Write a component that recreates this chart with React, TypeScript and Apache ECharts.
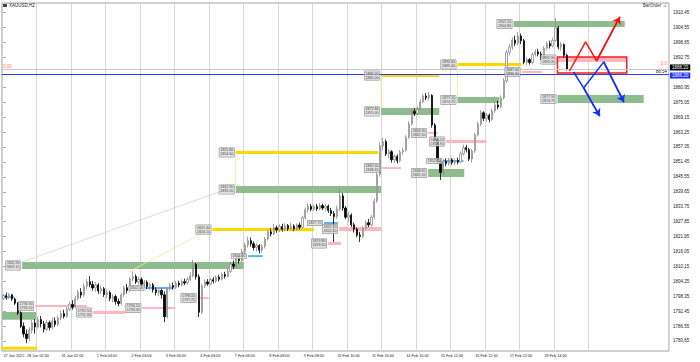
import React, { useEffect, useRef } from "react";
import * as echarts from "echarts";

const SLOT_COUNT = 232;
const LABEL_STEP = 12;
const GRID_LAST = 204;
const Y_MIN = 1776.68;
const Y_MAX = 1914.29;

const timeLabels = [
  "27 Jan 2022", "28 Jan 02:00", "31 Jan 02:00", "1 Feb 04:00", "2 Feb 04:00",
  "3 Feb 06:00", "4 Feb 06:00", "7 Feb 06:00", "8 Feb 08:00", "9 Feb 08:00",
  "10 Feb 10:00", "11 Feb 10:00", "14 Feb 10:00", "15 Feb 12:00", "16 Feb 12:00",
  "17 Feb 12:00", "18 Feb 14:00",
];

const priceTicks = [
  1780.65, 1786.55, 1792.45, 1798.35, 1804.25, 1810.15, 1816.05, 1821.95,
  1827.85, 1833.75, 1839.65, 1845.55, 1851.45, 1857.35, 1863.25, 1869.15,
  1875.05, 1880.95, 1892.75, 1898.65, 1904.55, 1910.45,
];

// [open, close, low, high]
const candles: number[][] = [
  [1797.5, 1798.6, 1796.8, 1799.4],
  [1798.6, 1797.9, 1797.0, 1799.8],
  [1797.9, 1798.9, 1797.2, 1799.6],
  [1798.9, 1797.2, 1796.5, 1799.2],
  [1797.2, 1795.6, 1794.9, 1797.8],
  [1795.6, 1791.8, 1790.9, 1796.0],
  [1791.8, 1786.5, 1785.7, 1792.4],
  [1786.5, 1783.4, 1782.1, 1788.0],
  [1783.4, 1781.6, 1779.8, 1785.2],
  [1781.6, 1784.9, 1780.5, 1786.1],
  [1784.9, 1787.8, 1783.6, 1789.0],
  [1787.8, 1786.2, 1783.5, 1789.3],
  [1786.2, 1789.1, 1785.5, 1790.2],
  [1789.1, 1787.4, 1786.0, 1790.5],
  [1787.4, 1785.3, 1784.0, 1788.6],
  [1785.3, 1787.9, 1784.6, 1789.0],
  [1787.9, 1786.0, 1784.8, 1788.7],
  [1786.0, 1788.6, 1785.2, 1789.9],
  [1788.6, 1787.2, 1786.1, 1790.0],
  [1787.2, 1789.8, 1786.5, 1790.8],
  [1789.8, 1791.5, 1788.9, 1792.7],
  [1791.5, 1790.4, 1789.5, 1793.0],
  [1790.4, 1793.2, 1789.8, 1794.1],
  [1793.2, 1795.1, 1792.4, 1796.3],
  [1795.1, 1794.0, 1793.0, 1796.8],
  [1794.0, 1797.4, 1793.5, 1798.5],
  [1797.4, 1799.9, 1796.6, 1801.0],
  [1799.9, 1798.8, 1797.6, 1801.5],
  [1798.8, 1802.3, 1798.0, 1803.4],
  [1802.3, 1804.1, 1801.2, 1805.2],
  [1804.1, 1803.0, 1801.9, 1806.3],
  [1803.0, 1801.6, 1800.5, 1804.4],
  [1801.6, 1802.8, 1800.1, 1804.0],
  [1802.8, 1800.4, 1799.3, 1803.5],
  [1800.4, 1801.3, 1799.2, 1802.6],
  [1801.3, 1799.0, 1798.1, 1802.0],
  [1799.0, 1799.8, 1797.6, 1800.9],
  [1799.8, 1797.5, 1796.4, 1800.5],
  [1797.5, 1798.2, 1795.8, 1799.1],
  [1798.2, 1796.3, 1795.0, 1799.0],
  [1796.3, 1795.5, 1794.4, 1797.4],
  [1795.5, 1798.9, 1794.8, 1799.7],
  [1798.9, 1801.7, 1798.0, 1802.5],
  [1801.7, 1800.6, 1799.4, 1803.1],
  [1800.6, 1805.2, 1800.0, 1806.0],
  [1805.2, 1806.1, 1804.3, 1808.2],
  [1806.1, 1804.0, 1803.2, 1807.0],
  [1804.0, 1805.0, 1802.9, 1806.1],
  [1805.0, 1803.1, 1802.0, 1805.8],
  [1803.1, 1803.9, 1801.7, 1804.8],
  [1803.9, 1802.2, 1801.1, 1804.6],
  [1802.2, 1802.9, 1800.8, 1803.7],
  [1802.9, 1800.9, 1799.8, 1803.6],
  [1800.9, 1799.8, 1798.6, 1801.8],
  [1799.8, 1800.6, 1798.3, 1801.5],
  [1800.6, 1798.9, 1797.4, 1801.3],
  [1798.9, 1790.2, 1788.1, 1800.2],
  [1790.2, 1801.3, 1789.6, 1802.0],
  [1801.3, 1802.6, 1800.5, 1803.6],
  [1802.6, 1801.9, 1800.9, 1803.8],
  [1801.9, 1803.5, 1801.2, 1804.4],
  [1803.5, 1802.8, 1801.9, 1804.5],
  [1802.8, 1804.1, 1802.2, 1805.0],
  [1804.1, 1803.6, 1802.7, 1805.3],
  [1803.6, 1805.0, 1803.0, 1805.9],
  [1805.0, 1806.4, 1804.3, 1807.8],
  [1806.4, 1810.9, 1805.8, 1812.7],
  [1810.9, 1806.0, 1804.9, 1811.5],
  [1806.0, 1792.0, 1790.1, 1807.0],
  [1792.0, 1802.5, 1791.3, 1803.3],
  [1802.5, 1804.0, 1801.6, 1804.9],
  [1804.0, 1803.2, 1802.5, 1805.1],
  [1803.2, 1804.9, 1802.7, 1805.6],
  [1804.9, 1804.3, 1803.4, 1805.9],
  [1804.3, 1805.8, 1803.7, 1806.6],
  [1805.8, 1805.1, 1804.2, 1806.8],
  [1805.1, 1806.9, 1804.6, 1807.7],
  [1806.9, 1806.3, 1805.3, 1808.0],
  [1806.3, 1808.2, 1805.8, 1809.1],
  [1808.2, 1811.0, 1807.6, 1812.1],
  [1811.0, 1810.2, 1809.0, 1812.5],
  [1810.2, 1813.3, 1809.6, 1814.4],
  [1813.3, 1812.4, 1811.3, 1814.8],
  [1812.4, 1815.9, 1811.9, 1817.0],
  [1815.9, 1818.6, 1815.1, 1819.6],
  [1818.6, 1820.3, 1817.6, 1821.9],
  [1820.3, 1819.1, 1818.0, 1821.6],
  [1819.1, 1817.6, 1816.4, 1820.0],
  [1817.6, 1818.4, 1816.0, 1819.3],
  [1818.4, 1816.5, 1815.3, 1819.0],
  [1816.5, 1818.0, 1815.6, 1818.9],
  [1818.0, 1821.0, 1817.2, 1821.8],
  [1821.0, 1823.8, 1820.4, 1824.6],
  [1823.8, 1823.0, 1822.0, 1825.2],
  [1823.0, 1825.4, 1822.5, 1826.9],
  [1825.4, 1824.6, 1823.4, 1826.3],
  [1824.6, 1825.9, 1823.7, 1826.8],
  [1825.9, 1824.8, 1823.9, 1827.0],
  [1824.8, 1826.3, 1824.0, 1827.2],
  [1826.3, 1825.0, 1824.1, 1826.9],
  [1825.0, 1826.1, 1824.3, 1827.4],
  [1826.1, 1824.9, 1824.0, 1826.8],
  [1824.9, 1826.5, 1824.2, 1827.1],
  [1826.5, 1825.6, 1824.6, 1827.5],
  [1825.6, 1829.4, 1825.0, 1830.2],
  [1829.4, 1832.6, 1828.8, 1833.5],
  [1832.6, 1833.9, 1831.5, 1835.0],
  [1833.9, 1832.7, 1831.9, 1834.8],
  [1832.7, 1833.8, 1832.0, 1834.6],
  [1833.8, 1832.9, 1832.0, 1834.9],
  [1832.9, 1834.2, 1832.3, 1835.1],
  [1834.2, 1833.2, 1832.4, 1835.0],
  [1833.2, 1834.0, 1832.1, 1834.8],
  [1834.0, 1832.2, 1831.3, 1834.6],
  [1832.2, 1831.0, 1830.1, 1833.3],
  [1831.0, 1829.9, 1819.8, 1832.0],
  [1829.9, 1832.8, 1829.0, 1834.1],
  [1832.8, 1838.0, 1832.0, 1840.7],
  [1838.0, 1833.2, 1832.1, 1839.1],
  [1833.2, 1829.6, 1828.8, 1834.0],
  [1829.6, 1830.4, 1827.6, 1831.8],
  [1830.4, 1826.6, 1825.8, 1831.1],
  [1826.6, 1824.9, 1823.5, 1827.5],
  [1824.9, 1822.5, 1821.6, 1825.6],
  [1822.5, 1822.0, 1819.8, 1823.8],
  [1822.0, 1825.2, 1821.4, 1826.0],
  [1825.2, 1827.4, 1824.6, 1828.4],
  [1827.4, 1826.6, 1825.7, 1828.9],
  [1826.6, 1829.6, 1826.0, 1830.5],
  [1829.6, 1836.0, 1829.0, 1837.0],
  [1836.0, 1846.5, 1835.3, 1847.8],
  [1846.5, 1857.8, 1845.6, 1859.2],
  [1857.8, 1859.5, 1856.0, 1860.9],
  [1859.5, 1854.6, 1853.8, 1860.3],
  [1854.6, 1855.5, 1852.9, 1856.6],
  [1855.5, 1852.3, 1851.2, 1856.1],
  [1852.3, 1853.6, 1851.0, 1854.5],
  [1853.6, 1851.9, 1850.8, 1854.4],
  [1851.9, 1855.4, 1851.3, 1856.2],
  [1855.4, 1856.0, 1854.2, 1857.1],
  [1856.0, 1861.2, 1855.5, 1862.0],
  [1861.2, 1866.5, 1860.6, 1867.5],
  [1866.5, 1871.4, 1865.9, 1872.4],
  [1871.4, 1870.6, 1869.6, 1872.6],
  [1870.6, 1872.2, 1869.9, 1873.3],
  [1872.2, 1875.2, 1871.6, 1876.3],
  [1875.2, 1877.5, 1874.7, 1878.2],
  [1877.5, 1876.8, 1875.9, 1878.6],
  [1876.8, 1877.7, 1875.6, 1879.1],
  [1877.7, 1866.0, 1865.0, 1878.2],
  [1866.0, 1860.5, 1859.4, 1866.8],
  [1860.5, 1851.8, 1850.6, 1861.2],
  [1851.8, 1847.3, 1844.3, 1853.0],
  [1847.3, 1851.6, 1846.5, 1852.5],
  [1851.6, 1850.8, 1849.7, 1852.9],
  [1850.8, 1852.3, 1850.0, 1853.1],
  [1852.3, 1851.2, 1850.3, 1853.0],
  [1851.2, 1852.0, 1850.2, 1852.9],
  [1852.0, 1851.4, 1850.5, 1853.2],
  [1851.4, 1854.7, 1850.9, 1855.6],
  [1854.7, 1857.1, 1854.0, 1858.3],
  [1857.1, 1856.3, 1855.2, 1858.1],
  [1856.3, 1852.6, 1851.8, 1857.0],
  [1852.6, 1855.8, 1851.2, 1856.6],
  [1855.8, 1862.1, 1855.0, 1863.0],
  [1862.1, 1866.4, 1861.5, 1867.3],
  [1866.4, 1870.9, 1865.6, 1872.0],
  [1870.9, 1868.7, 1867.6, 1871.5],
  [1868.7, 1869.9, 1867.4, 1870.8],
  [1869.9, 1868.2, 1867.1, 1870.6],
  [1868.2, 1871.6, 1867.6, 1872.4],
  [1871.6, 1874.0, 1870.9, 1874.9],
  [1874.0, 1873.2, 1872.3, 1875.6],
  [1873.2, 1876.8, 1872.6, 1877.8],
  [1876.8, 1883.5, 1876.1, 1884.6],
  [1883.5, 1894.8, 1882.7, 1895.9],
  [1894.8, 1896.9, 1893.6, 1898.0],
  [1896.9, 1899.6, 1895.8, 1900.7],
  [1899.6, 1898.4, 1897.3, 1901.4],
  [1898.4, 1901.2, 1897.7, 1902.8],
  [1901.2, 1899.4, 1898.0, 1902.2],
  [1899.4, 1890.9, 1890.0, 1900.1],
  [1890.9, 1891.9, 1889.8, 1892.8],
  [1891.9, 1890.8, 1889.9, 1892.5],
  [1890.8, 1893.9, 1890.2, 1894.7],
  [1893.9, 1895.0, 1893.1, 1896.0],
  [1895.0, 1894.1, 1893.2, 1896.2],
  [1894.1, 1892.6, 1891.8, 1895.0],
  [1892.6, 1896.4, 1892.0, 1897.2],
  [1896.4, 1898.2, 1895.6, 1899.1],
  [1898.2, 1897.3, 1896.3, 1899.4],
  [1897.3, 1899.5, 1896.8, 1900.6],
  [1899.5, 1904.5, 1898.9, 1908.4],
  [1904.5, 1896.9, 1896.0, 1905.2],
  [1896.9, 1897.9, 1895.4, 1898.8],
  [1897.9, 1893.6, 1892.7, 1898.3],
  [1893.6, 1888.2, 1887.6, 1894.3],
];

// zones: [fromSlot, toSlot, topPrice, bottomPrice, labelled (1/0)]
const greenZones = [
  [-0.5, 11.4, 1792.1, 1789.0, 0],
  [6.5, 83.6, 1811.9, 1809.1, 1],
  [80.8, 131.35, 1841.9, 1839.2, 1],
  [131.35, 151.6, 1872.8, 1870.0, 1],
  [147.7, 160.3, 1848.65, 1845.5, 1],
  [157.9, 172.5, 1877.1, 1874.75, 1],
  [177.4, 216.1, 1907.2, 1904.8, 1],
  [192.7, 222.7, 1877.9, 1874.75, 1],
];
const yellowZones = [
  [-0.5, 11.7, 1778.4, 1777.2, 0],
  [72.7, 108.0, 1825.3, 1824.1, 1],
  [80.8, 130.3, 1855.8, 1854.6, 1],
  [131.35, 151.6, 1886.2, 1885.0, 1],
  [157.9, 180.2, 1890.6, 1889.4, 1],
];
const pinkZones = [
  [11.0, 29.1, 1794.9, 1794.1, 1],
  [31.2, 42.4, 1792.5, 1791.3, 1],
  [48.3, 59.8, 1794.1, 1793.3, 1],
  [67.5, 71.4, 1798.0, 1797.25, 1],
  [112.9, 117.4, 1819.8, 1818.6, 1],
  [116.7, 131.35, 1825.7, 1824.1, 1],
  [131.35, 138.3, 1849.4, 1848.65, 1],
  [147.7, 150.9, 1863.3, 1862.5, 1],
  [154.0, 168.0, 1860.1, 1858.9, 1],
  [180.2, 187.2, 1887.4, 1886.6, 1],
  [192.7, 216.8, 1892.9, 1890.95, 1],
];
const blueZones = [
  [-0.5, 3.7, 1798.4, 1797.6, 0],
  [49.4, 59.1, 1802.0, 1801.2, 1],
  [85.0, 90.2, 1814.6, 1813.8, 1],
  [111.5, 116.3, 1827.7, 1826.9, 1],
  [153.0, 160.0, 1852.2, 1851.4, 1],
];
const redBox = [192.7, 216.8, 1892.9, 1886.6];

const redArrow = [[196.9, 1887.4], [202.5, 1898.9], [206.3, 1891.4], [214.4, 1908.8]];
const blueArrowA = [[198.3, 1887.0], [201.8, 1880.7], [208.8, 1891.0], [215.8, 1875.1]];
const blueArrowB = [[201.8, 1880.7], [207.4, 1869.6]];

const guideGreen = [[6.5, 1811.9], [80.8, 1841.9]];
const guideYellow = [[43.4, 1807.9], [72.7, 1825.3]];
const guideVertA = [[80.8, 1854.6], [80.8, 1841.9]];
const guideVertB = [[131.35, 1885.0], [131.35, 1872.8]];
const guideVertC = [[157.9, 1889.4], [157.9, 1877.1]];

const bidPrice = 1888.2;
const levelPrice = 1886.2;

const FONT = "Liberation Sans, Arial, sans-serif";

function zoneSeries(zones: number[][], color: string, z: number) {
  return {
    type: "line",
    xAxisIndex: 1,
    yAxisIndex: 0,
    data: [],
    silent: true,
    z,
    markArea: {
      silent: true,
      itemStyle: { color },
      data: zones.map((zn) => [{ coord: [zn[0], zn[2]] }, { coord: [zn[1], zn[3]] }]),
    },
  };
}

function arrowSeries(pts: number[][], color: string) {
  const n = pts.length;
  return {
    type: "line",
    xAxisIndex: 1,
    yAxisIndex: 0,
    data: pts,
    showSymbol: false,
    symbol: "none",
    silent: true,
    z: 6,
    lineStyle: { color, width: 1.5 },
    markLine: {
      silent: true,
      symbol: ["none", "arrow"],
      symbolSize: [7, 7],
      lineStyle: { color, width: 1.5, type: "solid" },
      label: { show: false },
      data: [[{ coord: pts[n - 2] }, { coord: pts[n - 1] }]],
    },
  };
}

function guideSeries(pts: number[][], color: string) {
  return {
    type: "line",
    xAxisIndex: 1,
    yAxisIndex: 0,
    data: pts,
    showSymbol: false,
    symbol: "none",
    silent: true,
    z: 2,
    lineStyle: { color, width: 0.8 },
  };
}

export default function App() {
  const ref = useRef<HTMLDivElement>(null);

  useEffect(() => {
    if (!ref.current) return;
    const chart = echarts.init(ref.current, undefined, { renderer: "svg" });

    const categories = Array.from({ length: SLOT_COUNT }, (_, i) =>
      i % LABEL_STEP === 0 && i / LABEL_STEP < timeLabels.length ? timeLabels[i / LABEL_STEP] : ""
    );

    const labelData: any[] = [];
    const addLabels = (zones: number[][], single: boolean) => {
      zones.forEach((zn) => {
        if (!zn[4]) return;
        labelData.push({
          value: [zn[0], (zn[2] + zn[3]) / 2],
          label: {
            formatter: single ? zn[2].toFixed(2) : zn[2].toFixed(2) + "\n" + zn[3].toFixed(2),
          },
        });
      });
    };
    addLabels(greenZones, false);
    addLabels(yellowZones, false);
    addLabels(pinkZones, false);
    addLabels(blueZones, true);

    const option: any = {
      animation: false,
      backgroundColor: "#ffffff",
      grid: {
        left: 2,
        right: 31,
        top: 3,
        bottom: 11,
        containLabel: false,
        outerBoundsMode: "none",
        show: true,
        borderColor: "#a0a0a0",
        borderWidth: 1,
        backgroundColor: "#ffffff",
      },
      xAxis: [
        {
          type: "category",
          data: categories,
          boundaryGap: true,
          axisLine: { show: false },
          axisTick: { show: false },
          axisLabel: {
            interval: (i: number) => i % LABEL_STEP === 0 && i / LABEL_STEP < timeLabels.length,
            showMinLabel: true,
            alignMinLabel: "left",
            hideOverlap: false,
            fontSize: 3.8,
            color: "#222",
            margin: 3,
            fontFamily: FONT,
          },
          splitLine: {
            show: true,
            interval: (i: number) => i % LABEL_STEP === 0 && i > 0 && i <= GRID_LAST,
            lineStyle: { color: "#d6d6d6", width: 1 },
          },
        },
        {
          type: "value",
          min: -0.5,
          max: SLOT_COUNT - 0.5,
          show: false,
          splitLine: { show: false },
        },
      ],
      yAxis: {
        type: "value",
        position: "right",
        min: Y_MIN,
        max: Y_MAX,
        scale: true,
        axisLine: { show: false },
        axisTick: {
          show: true,
          length: 2,
          lineStyle: { color: "#888" },
          customValues: priceTicks,
        },
        axisLabel: {
          fontSize: 4.5,
          color: "#222",
          margin: 4,
          fontFamily: FONT,
          customValues: priceTicks,
          formatter: (v: number) => v.toFixed(2),
        },
        splitLine: { show: false },
      },
      graphic: [
        { type: "rect", left: 3, top: 4, shape: { width: 4, height: 3 }, style: { fill: "#444" } },
        {
          type: "text",
          left: 9,
          top: 3,
          style: { text: "XAUUSD,H2", fontSize: 4.5, fill: "#222", fontFamily: FONT },
        },
        {
          type: "text",
          right: 33,
          top: 3,
          style: { text: "BarOrder ☺", fontSize: 4.5, fill: "#333", fontFamily: FONT },
        },
        {
          type: "text",
          left: 3,
          top: 64,
          style: { text: "0.00", fontSize: 4.5, fill: "#ff7f50", fontFamily: FONT },
        },
        {
          type: "text",
          right: 33,
          top: 61,
          style: { text: "0.0", fontSize: 4.5, fill: "#ff7f50", fontFamily: FONT },
        },
        {
          type: "text",
          right: 33,
          top: 69,
          style: { text: "88.54", fontSize: 4.5, fill: "#222", fontFamily: FONT },
        },
      ],
      series: [
        zoneSeries(greenZones, "#8fbc8f", 1),
        zoneSeries(yellowZones, "#ffd700", 1),
        zoneSeries(pinkZones, "#ffb6c1", 1),
        zoneSeries(blueZones, "#5fb0f0", 1),
        guideSeries(guideGreen, "#c6dcc6"),
        guideSeries(guideYellow, "#f7e49a"),
        guideSeries(guideVertA, "#f7e49a"),
        guideSeries(guideVertB, "#f7e49a"),
        guideSeries(guideVertC, "#f7e49a"),
        {
          type: "candlestick",
          xAxisIndex: 0,
          yAxisIndex: 0,
          data: candles,
          barWidth: "60%",
          z: 3,
          silent: true,
          itemStyle: {
            color: "#ffffff",
            color0: "#000000",
            borderColor: "#8a8a8a",
            borderColor0: "#000000",
            borderWidth: 0.8,
          },
          markLine: {
            silent: true,
            symbol: ["none", "none"],
            data: [
              {
                yAxis: bidPrice,
                lineStyle: { color: "#c8c8c8", width: 1, type: "solid" },
                label: {
                  show: true,
                  position: "end",
                  distance: 1,
                  offset: [0, -1.5],
                  formatter: bidPrice.toFixed(2),
                  fontSize: 4.5,
                  lineHeight: 5,
                  color: "#ffffff",
                  backgroundColor: "#000000",
                  padding: [0.5, 2],
                  fontFamily: FONT,
                },
              },
              {
                yAxis: levelPrice,
                lineStyle: { color: "#2b3cff", width: 1.2, type: "solid" },
                label: {
                  show: true,
                  position: "end",
                  distance: 1,
                  offset: [0, 1.5],
                  formatter: levelPrice.toFixed(2),
                  fontSize: 4.5,
                  lineHeight: 5,
                  color: "#ffffff",
                  backgroundColor: "#1f33ff",
                  padding: [0.5, 2],
                  fontFamily: FONT,
                },
              },
            ],
          },
        },
        {
          type: "line",
          xAxisIndex: 1,
          yAxisIndex: 0,
          data: [],
          silent: true,
          z: 5,
          markArea: {
            silent: true,
            itemStyle: { color: "rgba(0,0,0,0)", borderColor: "#ff1a1a", borderWidth: 1.5 },
            data: [[{ coord: [redBox[0], redBox[2]] }, { coord: [redBox[1], redBox[3]] }]],
          },
        },
        arrowSeries(redArrow, "#ff1010"),
        arrowSeries(blueArrowA, "#1030ff"),
        arrowSeries(blueArrowB, "#1030ff"),
        {
          type: "scatter",
          xAxisIndex: 1,
          yAxisIndex: 0,
          data: labelData,
          symbolSize: 1,
          itemStyle: { color: "rgba(0,0,0,0)" },
          silent: true,
          z: 7,
          label: {
            show: true,
            position: "left",
            distance: 1,
            fontSize: 3.6,
            lineHeight: 4,
            color: "#111",
            backgroundColor: "#d8d8d8",
            borderColor: "#7a7a7a",
            borderWidth: 0.5,
            padding: [0.5, 1],
            fontFamily: FONT,
          },
        },
      ],
    };

    chart.setOption(option);
    return () => chart.dispose();
  }, []);

  return (
    <div
      ref={ref}
      style={{ position: "fixed", left: 0, top: 0, width: 700, height: 362, background: "#fff" }}
    />
  );
}
